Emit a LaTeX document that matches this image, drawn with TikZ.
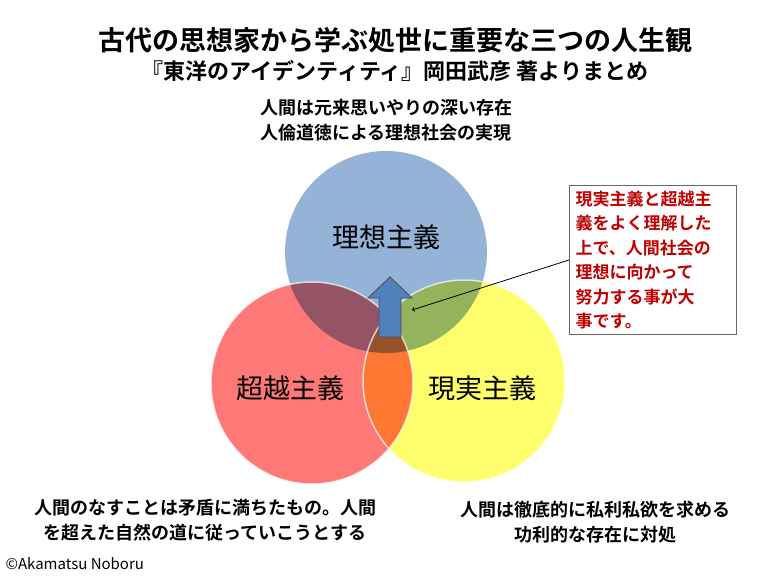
\documentclass[tikz,border=0pt]{standalone}
\usepackage{fontspec}
\newfontfamily\jp{Noto Sans CJK JP}
\newfontfamily\jpb{Noto Sans CJK JP Bold}
\definecolor{idealblue}{RGB}{149,179,215}
\definecolor{transred}{RGB}{255,120,120}
\definecolor{realyellow}{RGB}{255,255,110}
\definecolor{arrowblue}{RGB}{79,129,189}
\definecolor{noteRed}{RGB}{192,0,0}
\begin{document}
\begin{tikzpicture}[x=1pt,y=-1pt,
  lbl/.style={font=\jp\fontsize{27}{27}\selectfont},
  captext/.style={font=\jpb\fontsize{18}{25}\selectfont,align=center}]

  \useasboundingbox[fill=white] (0,0) rectangle (770,577);

  \node[font=\jpb\fontsize{27}{27}\selectfont] (title) at (395,40) {古代の思想家から学ぶ処世に重要な三つの人生観};
  \node[font=\jpb\fontsize{22}{22}\selectfont] (sub) at (395,71) {『東洋のアイデンティティ』岡田武彦 著よりまとめ};
  \node[captext] (ideal) at (386,120) {人間は元来思いやりの深い存在\\人倫道徳による理想社会の実現};

  \begin{scope}[transparency group]
    \fill[idealblue] (386,252) circle (101);
    \fill[transred,blend mode=multiply] (312,383) circle (101);
    \fill[realyellow,blend mode=multiply] (464,381) circle (101);
  \end{scope}
  \draw[white,line width=1.5pt,opacity=0.7] (312,383) circle (101) (464,381) circle (101);

  \node[lbl] (c1) at (386,237) {理想主義};
  \node[lbl] (c2) at (290,388) {超越主義};
  \node[lbl] (c3) at (482,388) {現実主義};

  \draw[fill=arrowblue,draw=black!70,line width=0.8pt]
    (379,337) -- (379,298) -- (368,298) -- (390,277) -- (412,298) -- (401,298) -- (401,337) -- cycle;

  \node[draw=black!60,line width=0.8pt,minimum width=167,minimum height=149,anchor=north west,
    inner sep=0pt] (box) at (569,185) {};
  \node[anchor=north west,text=noteRed,font=\jpb\fontsize{17}{24.5}\selectfont,align=left] (note) at (572,187)
    {現実主義と超越主\\義をよく理解した\\上で、人間社会の\\理想に向かって\\努力する事が大\\事です。};
  \coordinate (tipp) at (412,310);
  \draw[->,thick] (box.west |- 0,260) -- (tipp);

  \node[captext] (left) at (205,520) {人間のなすことは矛盾に満ちたもの。人間\\を超えた自然の道に従っていこうとする};
  \node[captext] (right) at (595,522) {人間は徹底的に私利私欲を求める\\功利的な存在に対処};
  \node[anchor=west,font=\jp\fontsize{15}{15}\selectfont] (copy) at (2,564) {©Akamatsu Noboru};
\end{tikzpicture}
\end{document}
